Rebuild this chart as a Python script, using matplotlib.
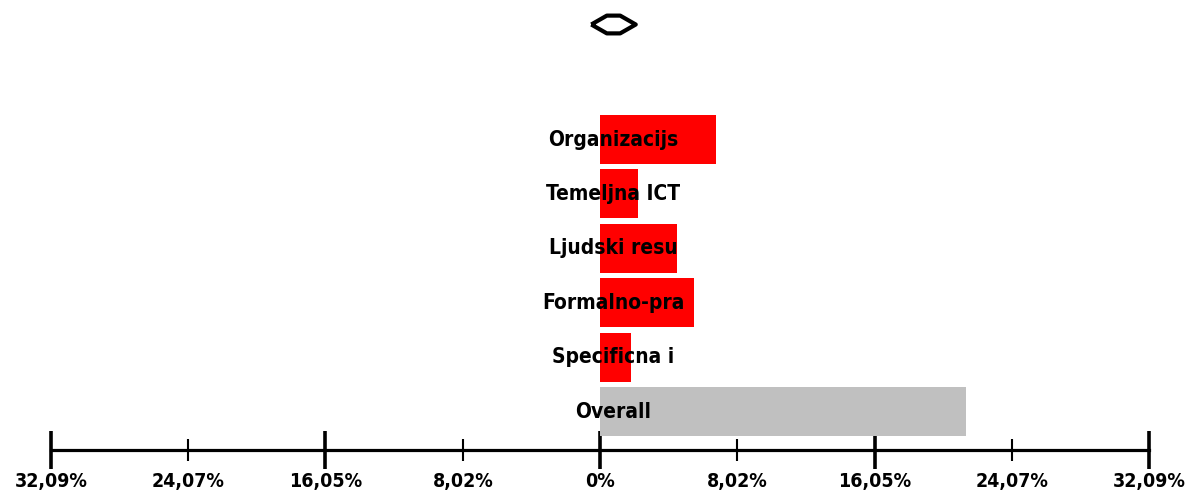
import numpy as np
import matplotlib
matplotlib.use('Agg')
import matplotlib.pyplot as plt
from matplotlib.ticker import FixedLocator, FuncFormatter

# data
categories = ['Organizacijs', 'Temeljna ICT', 'Ljudski resu', 'Formalno-pra', 'Specificna i', 'Overall']
values = [6.78, 2.22, 4.50, 5.49, 1.81, 21.39]
bar_colors = ['#ff0000', '#ff0000', '#ff0000', '#ff0000', '#ff0000', '#c0c0c0']
marker_value = 0.76
major_ticks = [-32.09, -16.05, 0, 16.05, 32.09]
minor_ticks = [-24.07, -8.02, 8.02, 24.07]

fig = plt.figure(figsize=(11.91, 4.93), dpi=100)
ax = fig.add_axes([0, 0, 1, 1])

ypos = np.arange(len(categories))[::-1]
ax.barh(ypos, values, height=0.9, color=bar_colors, zorder=2)

font = dict(family='DejaVu Sans', fontstretch='condensed', fontweight='bold')
for y, name in zip(ypos, categories):
    ax.text(marker_value, y, name, ha='center', va='center', fontsize=15, zorder=3, **font)

# hexagonal marker at the top
verts = [(-1, 0), (-0.3, 0.4), (0.3, 0.4), (1, 0), (0.3, -0.4), (-0.3, -0.4), (-1, 0)]
ax.plot([marker_value], [7.12], marker=verts, markersize=32, markerfacecolor='white',
        markeredgecolor='black', markeredgewidth=3, linestyle='none', clip_on=False)

ax.set_xlim(-35.07, 34.54)
ax.set_ylim(-1.496, 7.564)

for s in ['top', 'right', 'left']:
    ax.spines[s].set_visible(False)
ax.spines['bottom'].set_position(('data', -0.708))
ax.spines['bottom'].set_bounds(-32.09, 32.09)
ax.spines['bottom'].set_linewidth(2.3)
ax.set_yticks([])

ax.xaxis.set_major_locator(FixedLocator(major_ticks))
ax.xaxis.set_minor_locator(FixedLocator(minor_ticks))
fmt = FuncFormatter(lambda v, p: '0%' if abs(v) < 1e-9 else ('%.2f%%' % abs(v)).replace('.', ','))
ax.xaxis.set_major_formatter(fmt)
ax.xaxis.set_minor_formatter(fmt)
ax.tick_params(axis='x', which='major', direction='inout', length=28, width=2.6, pad=2)
ax.tick_params(axis='x', which='minor', direction='inout', length=16, width=1.5, pad=8)
for lbl in ax.get_xticklabels(which='both'):
    lbl.set_fontsize(14)
    lbl.set_fontweight('bold')
    lbl.set_fontstretch('condensed')

fig.savefig('out.png', dpi=100)
